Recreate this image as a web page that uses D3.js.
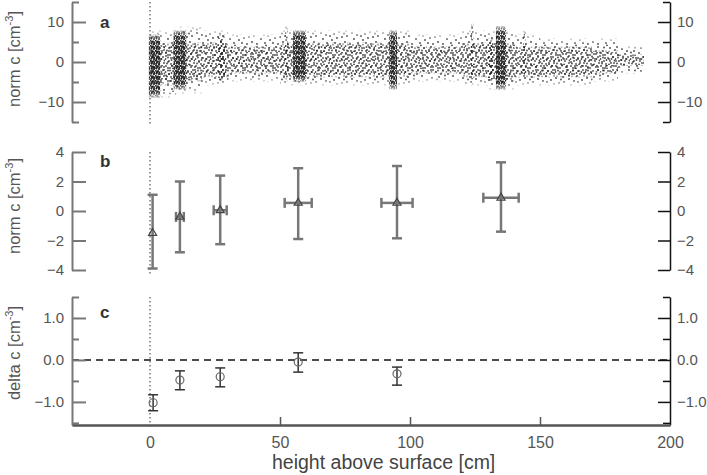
<!DOCTYPE html>
<html>
<head>
<meta charset="utf-8">
<script src="https://cdn.jsdelivr.net/npm/d3@7"></script>
<style>
body { margin: 0; background: #fff; }
text { font-family: "Liberation Sans", Arial, sans-serif; }
</style>
</head>
<body>
<script>
var bandX0 = [0, 10, 20, 30, 40, 50, 60, 70, 80, 90, 100, 110, 120, 130, 140, 150, 160, 170, 180];
var bandX1 = [10, 20, 30, 40, 50, 60, 70, 80, 90, 100, 110, 120, 130, 140, 150, 160, 170, 180, 190];
var bandHi = [8, 9, 8, 7, 7, 8, 8, 8, 8, 8, 7, 7, 8, 8, 7, 6, 6, 6, 4];
var bandLo = [-9, -8, -6, -5, -5, -6, -6, -6, -6, -6, -5, -5, -6, -7, -6, -6, -6, -5, -3];
var coreHi = [5, 5, 5, 4, 4, 5, 5, 5, 5, 5, 4, 4, 5, 5, 4, 4, 4, 3, 2];
var coreLo = [-6, -5, -4, -3, -3, -4, -4, -4, -4, -4, -3, -3, -4, -5, -4, -4, -4, -3, -1];

var stripeX0 = [-0.5, 9, 26, 52, 55, 92, 123.5, 130, 133, 143.5];
var stripeX1 = [4, 14, 29, 53, 60, 95, 124.5, 132, 137, 144.5];
var stripeHi = [7, 8, 7, 9, 8, 8, 10, 6, 9, 8];
var stripeLo = [-9, -7, -5, -5, -5, -7, -6, -5, -7, -4];
var stripeLevel = [3, 3, 2, 2, 3, 3, 2, 2, 3, 2];

// panel b: mean norm c with error bars
var bX = [1, 11.5, 27, 57, 95, 135];
var bY = [-1.5, -0.4, 0.05, 0.55, 0.55, 0.9];
var bYlo = [-3.9, -2.8, -2.25, -1.9, -1.85, -1.4];
var bYhi = [1.1, 2.0, 2.4, 2.9, 3.05, 3.3];
var bXerr = [0, 1.5, 2.5, 5.2, 6, 6.8];

// panel c: delta c
var cX = [1.2, 11.5, 27, 57, 95];
var cY = [-1.02, -0.48, -0.4, -0.05, -0.33];
var cYlo = [-1.21, -0.71, -0.64, -0.29, -0.6];
var cYhi = [-0.83, -0.26, -0.19, 0.17, -0.17];

var xTicks = [0, 50, 100, 150, 200];
var aTicks = [-10, 0, 10], aMinor = [-15, -5, 5, 15];
var bTicks = [-4, -2, 0, 2, 4];
var cTicks = [-1, 0, 1], cMinor = [-1.5, -0.5, 0.5, 1.5];

var svg = d3.select("body").append("svg").attr("width", 707).attr("height", 475);
var defs = svg.append("defs");

var x = d3.scaleLinear().domain([-30, 200]).range([72, 670]);
var yA = d3.scaleLinear().domain([-15, 15]).range([122, 2]);
var yB = d3.scaleLinear().domain([-4, 4]).range([270, 152]);
var yC = d3.scaleLinear().domain([-1.55, 1.5]).range([425, 297]);

// stipple textures for the cloud (irregular dot tiles)
var tiles = [
  {id: "dots1", w: 31, h: 23, pts: [[2, 3], [9, 1], [14, 5], [5, 8], [11, 10], [16, 12], [7, 5], [21, 2], [1, 14],
    [26, 4], [29, 9], [19, 7], [24, 11], [13, 16], [4, 19], [9, 21], [17, 20], [22, 17], [27, 15], [30, 21],
    [20, 13], [6, 13], [15, 1.5], [25, 20], [11, 6.5], [28, 1], [18, 22.5], [3, 10.5]]},
  {id: "dots2", w: 15, h: 13, pts: [[1, 1], [5, 3], [8, 6], [3, 5.5], [7, 0.5], [4, 9], [0.5, 7], [11, 2], [13, 5],
    [10, 9], [14, 11], [6, 12], [2, 11.5], [12, 0.5], [9, 12.5], [11.5, 7], [6.5, 8], [14.5, 8.5], [3, 3]]},
  {id: "dots3", w: 5, h: 5, pts: [[0.5, 0.5], [3, 1.5], [1.5, 3.5], [4, 4], [4.5, 2.5], [2, 2]]}
];
tiles.forEach(function(t) {
  var p = defs.append("pattern").attr("id", t.id).attr("patternUnits", "userSpaceOnUse")
    .attr("width", t.w).attr("height", t.h);
  p.selectAll("circle").data(t.pts).enter().append("circle")
    .attr("cx", function(d) { return d[0]; })
    .attr("cy", function(d) { return d[1]; })
    .attr("r", 0.9)
    .attr("fill", "#1a1a1a")
    .attr("fill-opacity", 0.8);
});
var grad = defs.append("linearGradient").attr("id", "fadeGrad")
  .attr("x1", 0).attr("y1", 0).attr("x2", 0).attr("y2", 1);
[[0, "#222"], [0.12, "#fff"], [0.88, "#fff"], [1, "#222"]].forEach(function(s) {
  grad.append("stop").attr("offset", s[0]).attr("stop-color", s[1]);
});
defs.append("mask").attr("id", "fade").attr("maskContentUnits", "objectBoundingBox")
  .append("rect").attr("width", 1).attr("height", 1).attr("fill", "url(#fadeGrad)");

var axisCol = "#777", rightCol = "#111", labCol = "#555";

function styleAxis(g, col, w) {
  g.select(".domain").attr("stroke", col).attr("stroke-width", w);
  g.selectAll(".tick line").attr("stroke", col).attr("stroke-width", w);
  g.selectAll(".tick text").attr("fill", labCol).style("font-size", "15px")
    .style("font-family", "Liberation Sans, Arial, sans-serif");
}

function panelAxes(y, major, minor, fmt) {
  var gl = svg.append("g").attr("transform", "translate(" + x(-30) + ",0)")
    .call(d3.axisLeft(y).tickValues(major).tickFormat(fmt).tickSizeInner(-14).tickSizeOuter(0).tickPadding(8));
  styleAxis(gl, axisCol, 2);
  var gr = svg.append("g").attr("transform", "translate(" + x(200) + ",0)")
    .call(d3.axisRight(y).tickValues(major).tickFormat(fmt).tickSizeInner(-12).tickSizeOuter(0).tickPadding(7));
  styleAxis(gr, rightCol, 1.5);
  if (minor) {
    var ml = svg.append("g").attr("transform", "translate(" + x(-30) + ",0)")
      .call(d3.axisLeft(y).tickValues(minor).tickFormat("").tickSize(-7));
    styleAxis(ml, axisCol, 2);
    ml.select(".domain").remove();
    var mr = svg.append("g").attr("transform", "translate(" + x(200) + ",0)")
      .call(d3.axisRight(y).tickValues(minor).tickFormat("").tickSize(-7));
    styleAxis(mr, rightCol, 1.5);
    mr.select(".domain").remove();
  }
  // dotted line at height 0
  svg.append("line").attr("x1", x(0)).attr("x2", x(0))
    .attr("y1", y.range()[1]).attr("y2", y.range()[0] + 4)
    .attr("stroke", "#777").attr("stroke-width", 1.5).attr("stroke-dasharray", "1.5,2.5");
}

function yTitle(cy, main) {
  var t = svg.append("text").attr("transform", "translate(20," + cy + ") rotate(-90)")
    .attr("text-anchor", "middle").attr("fill", labCol).style("font-size", "16.5px");
  t.append("tspan").text(main + " [cm");
  t.append("tspan").attr("dy", -7).style("font-size", "11px").text("-3");
  t.append("tspan").attr("dy", 7).text("]");
}

function panelLetter(yy, s) {
  svg.append("text").attr("x", 100).attr("y", yy).attr("fill", "#333")
    .style("font-size", "17px").style("font-weight", "bold").text(s);
}

// ---- panel a ----
var cloud = svg.append("g");
function cloudRects(x0, x1, hi, lo, pat) {
  cloud.append("g").selectAll("rect").data(x0).enter().append("rect")
    .attr("x", function(d) { return x(d); })
    .attr("width", function(d, i) { return x(x1[i]) - x(d); })
    .attr("y", function(d, i) { return yA(hi[i]); })
    .attr("height", function(d, i) { return yA(lo[i]) - yA(hi[i]); })
    .attr("fill", function(d, i) { return "url(#" + pat(i) + ")"; })
    .attr("mask", "url(#fade)");
}
cloudRects(bandX0, bandX1, bandHi, bandLo, function() { return "dots1"; });
cloudRects(bandX0, bandX1, coreHi, coreLo, function() { return "dots2"; });
cloudRects(stripeX0, stripeX1, stripeHi, stripeLo, function(i) { return "dots" + stripeLevel[i]; });
cloudRects(stripeX0, stripeX1, stripeHi, stripeLo, function(i) { return stripeLevel[i] == 3 ? "dots3" : "dots1"; });

panelAxes(yA, aTicks, aMinor, d3.format("d"));
yTitle(59, "norm c");
panelLetter(28, "a");

// ---- panel b ----
panelAxes(yB, bTicks, null, d3.format("d"));
yTitle(206, "norm c");
panelLetter(167, "b");

var eb = svg.append("g").attr("stroke", "#777").attr("stroke-width", 2.5).attr("fill", "none");
bX.forEach(function(v, i) {
  var cx = x(v), cy = yB(bY[i]);
  eb.append("line").attr("x1", cx).attr("x2", cx).attr("y1", yB(bYhi[i])).attr("y2", yB(bYlo[i]));
  eb.append("line").attr("x1", cx - 5).attr("x2", cx + 5).attr("y1", yB(bYhi[i])).attr("y2", yB(bYhi[i]));
  eb.append("line").attr("x1", cx - 5).attr("x2", cx + 5).attr("y1", yB(bYlo[i])).attr("y2", yB(bYlo[i]));
  if (bXerr[i] > 0) {
    var xl = x(v - bXerr[i]), xr = x(v + bXerr[i]);
    eb.append("line").attr("x1", xl).attr("x2", xr).attr("y1", cy).attr("y2", cy);
    eb.append("line").attr("x1", xl).attr("x2", xl).attr("y1", cy - 5).attr("y2", cy + 5);
    eb.append("line").attr("x1", xr).attr("x2", xr).attr("y1", cy - 5).attr("y2", cy + 5);
  }
});
svg.append("g").selectAll("path").data(bX).enter().append("path")
  .attr("transform", function(d, i) { return "translate(" + x(d) + "," + yB(bY[i]) + ")"; })
  .attr("d", d3.symbol(d3.symbolTriangle).size(28))
  .attr("fill", "none").attr("stroke", "#444").attr("stroke-width", 1.2);

// ---- panel c ----
svg.append("line").attr("x1", x(-30)).attr("x2", x(200)).attr("y1", yC(0)).attr("y2", yC(0))
  .attr("stroke", "#111").attr("stroke-width", 1.5).attr("stroke-dasharray", "7,5");
panelAxes(yC, cTicks, cMinor, d3.format(".1f"));
yTitle(353, "delta c");
panelLetter(318, "c");

var ec = svg.append("g").attr("stroke", "#333").attr("stroke-width", 1.5).attr("fill", "none");
cX.forEach(function(v, i) {
  var cx = x(v);
  ec.append("line").attr("x1", cx).attr("x2", cx).attr("y1", yC(cYhi[i])).attr("y2", yC(cYlo[i]));
  ec.append("line").attr("x1", cx - 5).attr("x2", cx + 5).attr("y1", yC(cYhi[i])).attr("y2", yC(cYhi[i]));
  ec.append("line").attr("x1", cx - 5).attr("x2", cx + 5).attr("y1", yC(cYlo[i])).attr("y2", yC(cYlo[i]));
});
svg.append("g").selectAll("circle").data(cX).enter().append("circle")
  .attr("cx", function(d) { return x(d); })
  .attr("cy", function(d, i) { return yC(cY[i]); })
  .attr("r", 4).attr("fill", "none").attr("stroke", "#666").attr("stroke-width", 1.2);

// bottom axis
var gx = svg.append("g").attr("transform", "translate(0," + yC(-1.55) + ")")
  .call(d3.axisBottom(x).tickValues(xTicks).tickFormat(d3.format("d")).tickSizeInner(-8).tickSizeOuter(0).tickPadding(12));
styleAxis(gx, "#555", 2);
gx.select(".domain").attr("stroke-width", 2.5);
gx.selectAll(".tick line").filter(function(d) { return d == 0 || d == 200; }).remove();
gx.selectAll(".tick line").attr("stroke-width", 1.5);
gx.selectAll(".tick text").style("font-size", "16px");

svg.append("text").attr("x", 272).attr("y", 469).attr("fill", "#444")
  .style("font-size", "19.5px").text("height above surface [cm]");
</script>
</body>
</html>
